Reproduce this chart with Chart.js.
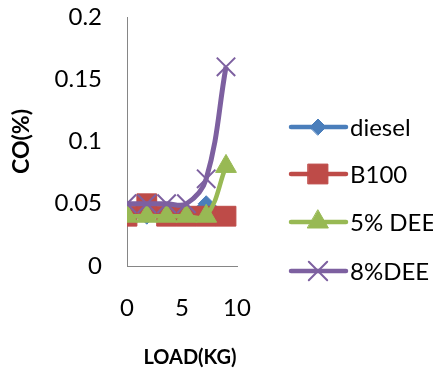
<html>
    <head>
        <meta charset="utf-8">
        <title>CO(%) vs LOAD(KG)</title>
        <style>
            body { margin: 0; background: #fff; }
            #wrap { width: 433px; height: 378px; }
        </style>
    </head>
    <body>
        <div id="wrap"><canvas id="chart"></canvas></div>
        <script src="https://cdn.jsdelivr.net/npm/chart.js"></script>
        <script type="text/javascript">
            // load in kg and CO in % for each fuel
            var loads = [0, 1.8, 3.6, 5.4, 7.2, 9];
            var diesel = [0.04, 0.04, 0.04, 0.04, 0.05, 0.04];
            var b100 = [0.04, 0.05, 0.04, 0.04, 0.04, 0.04];
            var dee5 = [0.04, 0.04, 0.04, 0.04, 0.04, 0.08];
            var dee8 = [0.05, 0.05, 0.05, 0.05, 0.07, 0.16];
            var seriesNames = ["diesel", "B100", "5% DEE", "8%DEE"];
            var xTickLabels = ["0", "5", "10"];
            var yTickLabels = ["0", "0.05", "0.1", "0.15", "0.2"];
            var xTitle = "LOAD(KG)";

            var FONT = "Lato, 'Liberation Sans', sans-serif";

            function points(values) {
                return loads.map(function (x, i) { return {x: x, y: values[i]}; });
            }

            function series(label, values, color, style, radius, width, order) {
                return {
                    label: label,
                    data: points(values),
                    borderColor: color,
                    backgroundColor: color,
                    borderWidth: width,
                    pointStyle: style,
                    pointRadius: radius,
                    pointBorderWidth: style === "crossRot" ? 2 : 1,
                    pointBorderColor: color,
                    pointBackgroundColor: color,
                    tension: 0.4,
                    order: order
                };
            }

            // legend at the right (short line with the marker on it) and the x title
            var sideLegend = {
                id: "sideLegend",
                afterDraw: function (chart) {
                    var ctx = chart.ctx;
                    var rows = [127, 174, 222, 271];
                    chart.data.datasets.forEach(function (ds, i) {
                        var y = rows[i];
                        ctx.save();
                        ctx.strokeStyle = ds.borderColor;
                        ctx.lineWidth = 4.5;
                        ctx.lineCap = "round";
                        ctx.beginPath();
                        ctx.moveTo(291, y);
                        ctx.lineTo(346, y);
                        ctx.stroke();
                        ctx.fillStyle = ds.pointBackgroundColor;
                        ctx.strokeStyle = ds.pointBorderColor;
                        ctx.lineWidth = ds.pointBorderWidth;
                        Chart.helpers.drawPoint(ctx, {
                            pointStyle: ds.pointStyle,
                            radius: ds.pointRadius,
                            rotation: 0,
                            borderWidth: ds.pointBorderWidth
                        }, 318, y);
                        ctx.fillStyle = "#000";
                        ctx.font = "24px " + FONT;
                        ctx.textBaseline = "middle";
                        ctx.textAlign = "left";
                        ctx.fillText(ds.label, 350, y + 1);
                        ctx.restore();
                    });
                    ctx.save();
                    ctx.fillStyle = "#000";
                    ctx.font = "bold 20px " + FONT;
                    ctx.textBaseline = "middle";
                    ctx.textAlign = "center";
                    ctx.fillText(xTitle, 190, 358);
                    ctx.restore();
                }
            };

            var ctx = document.getElementById("chart");
            var chart = new Chart(ctx, {
                type: "line",
                data: {
                    datasets: [
                        series(seriesNames[0], diesel, "#4A7EBB", "rectRot", 8, 4.5, 4),
                        series(seriesNames[1], b100, "#BE4B48", "rect", 14, 4.5, 3),
                        series(seriesNames[2], dee5, "#98B954", "triangle", 12, 4.5, 2),
                        series(seriesNames[3], dee8, "#7D60A0", "crossRot", 13, 5, 1)
                    ]
                },
                options: {
                    responsive: true,
                    maintainAspectRatio: false,
                    animation: false,
                    layout: {
                        padding: {top: 17, right: 196, left: 0, bottom: 0}
                    },
                    scales: {
                        x: {
                            type: "linear",
                            min: 0,
                            max: 10,
                            afterFit: function (scale) {
                                scale.height = 112;
                                scale.paddingLeft = 0;
                                scale.paddingRight = 0;
                            },
                            grid: {display: false, drawTicks: false},
                            border: {display: true, color: "#868686", width: 1},
                            ticks: {
                                stepSize: 5,
                                padding: 28,
                                color: "#000",
                                font: {family: FONT, size: 24},
                                maxRotation: 0,
                                callback: function (value, index) { return xTickLabels[index]; }
                            }
                        },
                        y: {
                            min: 0,
                            max: 0.2,
                            afterFit: function (scale) {
                                scale.width = 127;
                                scale.paddingTop = 0;
                                scale.paddingBottom = 0;
                            },
                            grid: {display: false, drawTicks: false},
                            border: {display: true, color: "#868686", width: 1},
                            ticks: {
                                stepSize: 0.05,
                                padding: 25,
                                color: "#000",
                                font: {family: FONT, size: 24},
                                callback: function (value, index) { return yTickLabels[index]; }
                            },
                            title: {
                                display: true,
                                text: "CO(%)",
                                color: "#000",
                                font: {family: FONT, size: 23, weight: "bold"},
                                padding: {top: 8, bottom: 0}
                            }
                        }
                    },
                    plugins: {
                        legend: {display: false},
                        tooltip: {enabled: false}
                    }
                },
                plugins: [sideLegend]
            });
        </script>
    </body>
</html>
